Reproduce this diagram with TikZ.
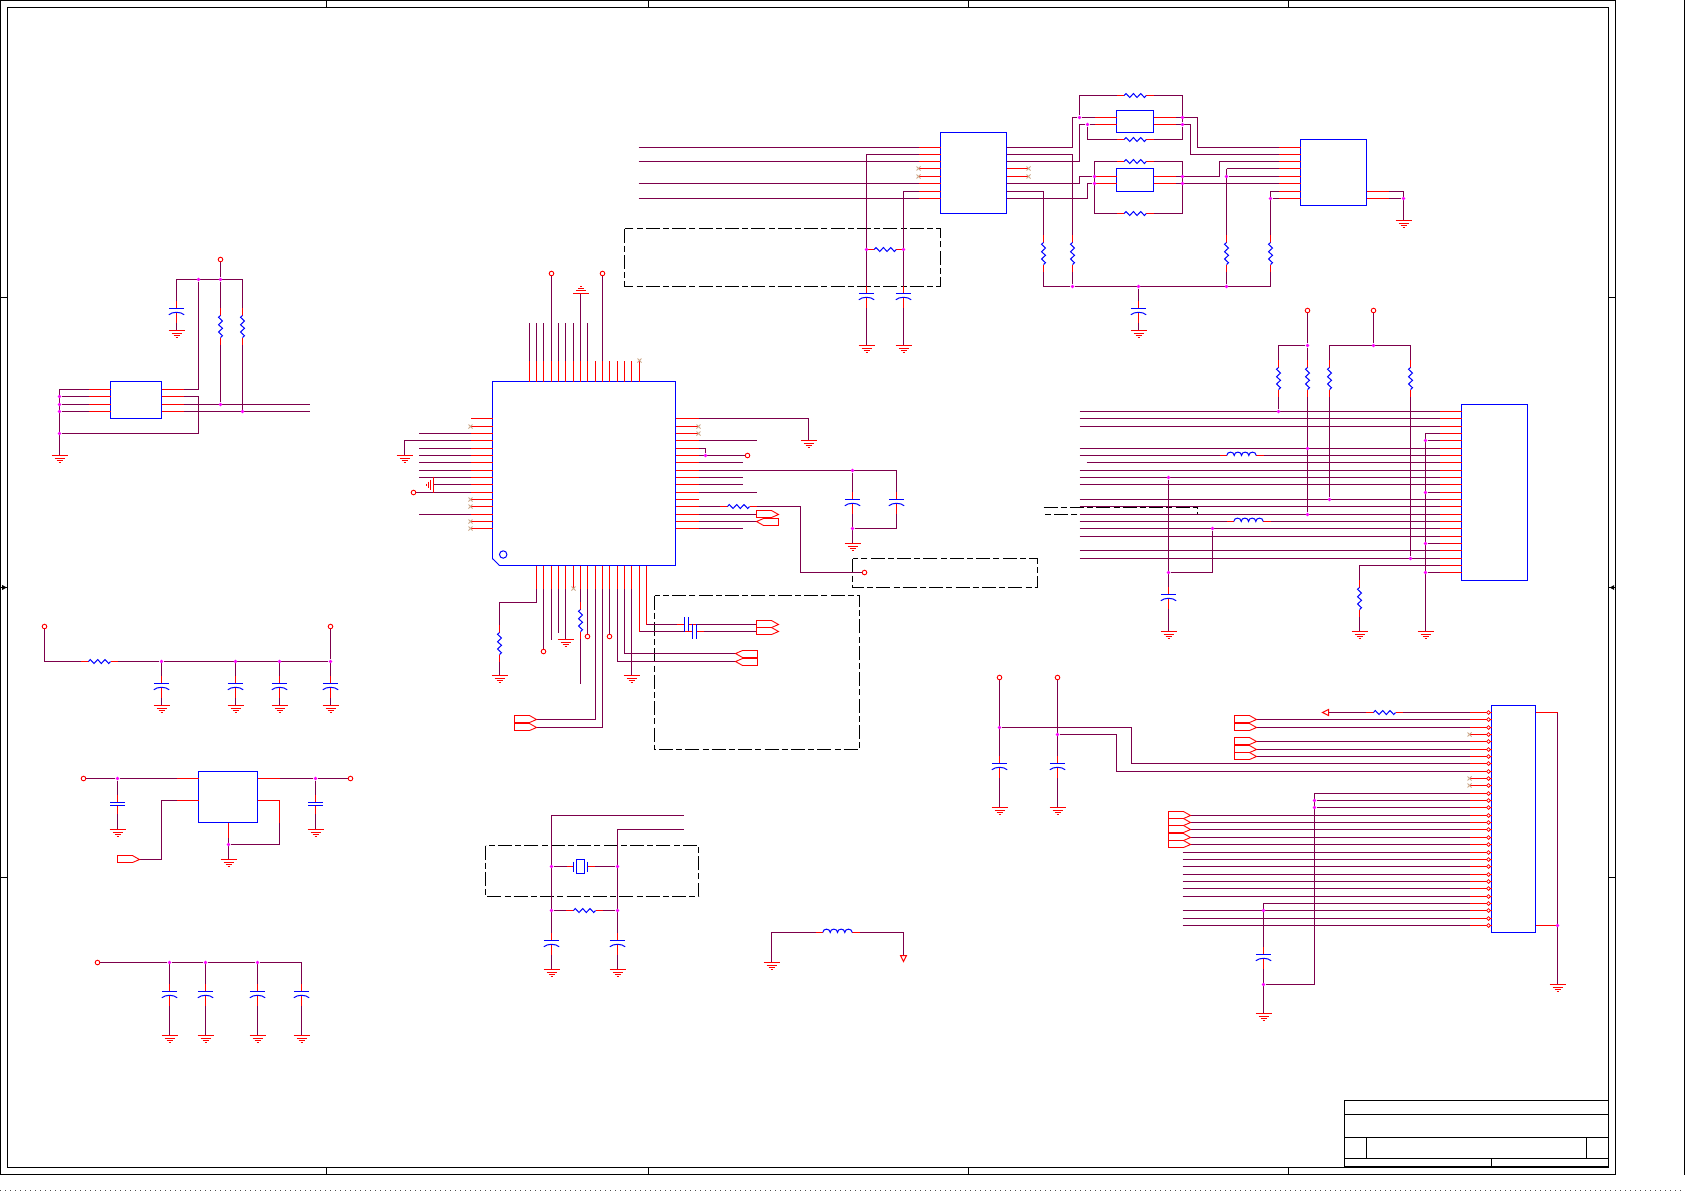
\documentclass[tikz,border=0pt]{standalone}
\usetikzlibrary{fit}
\pgfdeclarelayer{front}
\pgfsetlayers{main,front}
\definecolor{wirecol}{RGB}{125,0,75}
\definecolor{xcol}{RGB}{205,170,140}
\definecolor{dotcol}{RGB}{255,0,255}
\tikzset{
  wire/.style={draw=wirecol,line width=0.5pt},
  pin/.style={draw=red,line width=0.5pt},
  part/.style={draw=blue,line width=0.5pt},
  frame/.style={draw=black,line width=0.5pt},
  dashbox/.style={draw=black,line width=0.5pt,dash pattern=on 7pt off 1.6pt on 3pt off 1.6pt},
  ic/.style={draw=blue,line width=0.5pt,rectangle,inner sep=0pt,outer sep=0pt},
  jdot/.style={circle,fill=dotcol,inner sep=0pt,minimum size=1.9pt},
  term/.style={circle,draw=red,fill=white,line width=0.45pt,inner sep=0pt,minimum size=2.3pt},
  pad/.style={circle,draw=red,fill=white,line width=0.4pt,inner sep=0pt,minimum size=1.9pt},
  resv/.pic={
    \draw[white,line width=1pt] (0,-11) -- (0,11);
    \draw[pin] (0,-18.3) -- (0,-11) (0,11) -- (0,18.3);
    \draw[part] (0,-11) -- (-2,-9.2) -- (2,-5.5) -- (-2,-1.8) -- (2,1.8) -- (-2,5.5) -- (2,9.2) -- (0,11);
  },
  resh/.pic={
    \draw[white,line width=1pt] (-11,0) -- (11,0);
    \draw[pin] (-18.3,0) -- (-11,0) (11,0) -- (18.3,0);
    \draw[part] (-11,0) -- (-9.2,-2) -- (-5.5,2) -- (-1.8,-2) -- (1.8,2) -- (5.5,-2) -- (9.2,2) -- (11,0);
  },
  indh/.pic={
    \draw[white,line width=1pt] (-14.7,0) -- (14.7,0);
    \draw[pin] (-22,0) -- (-14.7,0) (14.7,0) -- (22,0);
    \draw[part] (-14.7,0) .. controls (-14.7,-4.5) and (-7.3,-4.5) .. (-7.3,0)
      .. controls (-7.3,-4.5) and (0,-4.5) .. (0,0)
      .. controls (0,-4.5) and (7.3,-4.5) .. (7.3,0)
      .. controls (7.3,-4.5) and (14.7,-4.5) .. (14.7,0);
  },
  capv/.pic={
    \draw[white,line width=1pt] (0,0.5) -- (0,3.2);
    \draw[pin] (0,-7.3) -- (0,0) (0,3.9) -- (0,14.6);
    \draw[part] (-7.7,0) -- (7.7,0);
    \draw[part] (-7.7,6.2) .. controls (-4,3) and (4,3) .. (7.7,6.2);
  },
  capflat/.pic={
    \draw[white,line width=1pt] (0,0.5) -- (0,2.5);
    \draw[pin] (0,-8) -- (0,0) (0,3) -- (0,11);
    \draw[part] (-7.3,0) -- (7.3,0) (-7.3,3) -- (7.3,3);
  },
  caph/.pic={
    \draw[white,line width=1pt] (-1.4,0) -- (1.4,0);
    \draw[pin] (-9.5,0) -- (-2,0) (2,0) -- (9.5,0);
    \draw[part] (-2,-7.3) -- (-2,7.3) (2,-7.3) -- (2,7.3);
  },
  xtal/.pic={
    \draw[white,line width=1pt] (-7,0) -- (7,0);
    \draw[pin] (-14,0) -- (-7,0) (7,0) -- (14,0);
    \draw[part] (-7,-5) -- (-7,5) (7,-5) -- (7,5) (-4,-7) rectangle (4,7);
  },
  gnd/.pic={
    \draw[pin] (-8,0) -- (8,0) (-5,3) -- (5,3) (-3,5) -- (3,5) (-1,7) -- (1,7);
  },
  port/.pic={
    \draw[pin,line width=0.45pt] (0,-4) -- (15,-4) -- (22,0) -- (15,3) -- (0,3) -- cycle;
  },
  tri/.pic={
    \draw[pin] (-3,0) -- (3,0) -- (0,6) -- cycle;
  },
  xmark/.pic={
    \draw[draw=xcol,line width=0.45pt] (-2,-2) -- (2,2) (-2,2) -- (2,-2);
  },
}
\begin{document}
\begin{tikzpicture}[x=0.5pt,y=-0.5pt]
  \useasboundingbox (-0.2,-0.2) rectangle (1684.8,1190.8);

  \draw[frame] (0.3,0.3) rectangle (1615.3,1174.3);
  \draw[frame] (7.3,7.3) rectangle (1608.3,1167.3);
  \draw[frame] (1684.3,0) -- (1684.3,1174.3);
  \draw[frame,black!70,dotted] (0,1190.3) -- (1685,1190.3);
  \foreach \x in {326.3,648.3,968.3,1288.3} {
    \draw[frame] (\x,0.3) -- (\x,7.3);
    \draw[frame] (\x,1167.3) -- (\x,1174.3);
  }
  \foreach \y in {297.3,587.3,877.3} {
    \draw[frame] (0.3,\y) -- (7.3,\y);
    \draw[frame] (1608.3,\y) -- (1615.3,\y);
  }
  \fill (2,584.8) -- (6.5,587.3) -- (2,589.8) -- cycle;
  \fill (1614,584.8) -- (1609.5,587.3) -- (1614,589.8) -- cycle;
  \draw[frame] (1344.3,1167.3) -- (1344.3,1100.3) -- (1608.3,1100.3);
  \draw[frame] (1344.3,1114.3) -- (1608.3,1114.3);
  \draw[frame] (1344.3,1137.3) -- (1608.3,1137.3);
  \draw[frame] (1344.3,1158.3) -- (1608.3,1158.3);
  \draw[frame] (1366.3,1137.3) -- (1366.3,1158.3);
  \draw[frame] (1586.3,1137.3) -- (1586.3,1158.3);
  \draw[frame] (1491.3,1158.3) -- (1491.3,1167.3);
  \draw[frame,line width=1pt] (1344.3,1166.8) -- (1608.3,1166.8);

  \begin{pgfonlayer}{front}
    \foreach \n/\x/\y in {
      a1/198.3/279.3,a2/220.3/279.3,a3/59.3/396.3,a4/59.3/404.3,a5/59.3/411.3,a6/59.3/433.3,a7/220.3/404.3,a8/242.3/411.3,
      m1/705.3/455.3,m2/852.3/470.3,m3/852.3/528.3,
      b1/866.3/249.3,b2/903.3/249.3,b3/1072.3/286.3,b4/1138.3/286.3,b5/1226.3/286.3,b6/1079.3/117.3,b7/1087.3/124.3,
      b8/1182.3/117.3,b9/1182.3/124.3,b10/1094.3/176.3,b11/1094.3/183.3,b12/1182.3/176.3,b13/1182.3/183.3,b14/1226.3/176.3,
      b15/1270.3/198.3,b16/1403.3/198.3,
      c1/1307.3/345.3,c2/1373.3/345.3,c3/1278.3/411.3,c4/1307.3/448.3,c5/1307.3/514.3,c6/1329.3/499.3,c7/1410.3/558.3,
      c8/1168.3/477.3,c9/1168.3/572.3,c10/1212.3/528.3,c11/1425.3/440.3,c12/1425.3/492.3,c13/1425.3/543.3,c14/1425.3/572.3,
      e1/999.3/727.3,e2/1057.3/734.3,e3/1314.3/800.3,e4/1314.3/807.3,e5/1263.3/910.3,e6/1263.3/984.3,e7/1557.3/925.3,
      k1/551.3/866.3,k2/617.3/866.3,k3/551.3/910.3,k4/617.3/910.3,
      f1/161.3/661.3,f2/235.3/661.3,f3/279.3/661.3,f4/330.3/661.3,g1/117.3/778.3,g2/315.3/778.3,g3/228.3/844.3,
      h1/169.3/962.3,h2/205.3/962.3,h3/257.3/962.3} {
      \node[jdot] (\n) at (\x,\y) {};
    }
    \foreach \n/\x/\y in {
      t1/220.3/259.3,t2/551.3/273.3,t3/602.3/273.3,t4/747.3/455.3,t5/413.3/492.3,t6/864.3/572.3,t7/543.3/651.3,t8/587.3/636.3,
      t9/609.3/636.3,t10/1307.3/310.3,t11/1373.3/310.3,t12/999.3/677.3,t13/1057.3/677.3,t14/44.3/626.3,t15/330.3/626.3,
      t16/83.3/778.3,t17/350.3/778.3,t18/97.3/962.3} {
      \node[term] (\n) at (\x,\y) {};
    }
  \end{pgfonlayer}

  \node[ic,fit={(110.3,381.3)(161.3,418.3)}] (u1) {};
  \node[ic,fit={(492.3,381.3)(675.3,565.3)}] (u2) {};
  \node[ic,fit={(940.3,132.3)(1006.3,213.3)}] (u3) {};
  \node[ic,fit={(1116.3,110.3)(1153.3,132.3)}] (u4) {};
  \node[ic,fit={(1116.3,168.3)(1153.3,191.3)}] (u5) {};
  \node[ic,fit={(1300.3,139.3)(1366.3,205.3)}] (u6) {};
  \node[ic,fit={(1461.3,404.3)(1527.3,580.3)}] (u7) {};
  \node[ic,fit={(1491.3,705.3)(1535.3,932.3)}] (u8) {};
  \node[ic,fit={(198.3,771.3)(257.3,822.3)}] (u9) {};
  \fill[white] (491.5,558.3) -- (491.5,566) -- (499.3,566) -- cycle;
  \draw[part] (492.3,558.3) -- (499.3,565.3);
  \node[ic,circle,minimum size=3.7pt] (u2m) at (503,554.3) {};

  \draw[dashbox] (624.3,228.3) rectangle (940.3,286.3);
  \draw[dashbox] (654.3,595.3) rectangle (859.3,749.3);
  \draw[dashbox] (852.3,558.3) rectangle (1037.3,587.3);
  \draw[dashbox] (485.3,845.3) rectangle (698.3,896.3);
  \draw[dashbox] (1043.3,507.3) -- (1197.3,507.3) -- (1197.3,514.3) -- (1043.3,514.3);

  % pull-ups, left
  \draw[wire] (t1) -- (a2);
  \draw[wire] (176.3,330.3) |- (242.3,279.3) -- (242.3,411.3);
  \draw[wire] (a2) -- (a7);
  \draw[wire] (a1) -- (198.3,389.3) -- (u1.east |- 0,389.3);
  \draw[wire] (u1.east |- 0,396.3) -- (198.3,396.3) |- (a6);
  \draw[wire] (59.3,455.3) -- (59.3,389.3) -- (u1.west |- 0,389.3);
  \draw[wire] (a3) -- (u1.west |- 0,396.3);
  \draw[wire] (a4) -- (u1.west |- 0,404.3);
  \draw[wire] (a5) -- (u1.west |- 0,411.3);
  \draw[wire] (u1.east |- 0,404.3) -- (309.3,404.3);
  \draw[wire] (u1.east |- 0,411.3) -- (309.3,411.3);
  \foreach \y in {389.3,396.3,404.3,411.3} {
    \draw[pin] (u1.west |- 0,\y) -- (88.3,\y);
    \draw[pin] (u1.east |- 0,\y) -- (183.3,\y);
  }
  \pic at (176.3,308.3) {capv};
  \pic at (220.3,326.3) {resv};
  \pic at (242.3,326.3) {resv};
  \pic at (176.3,330.3) {gnd};
  \pic at (59.3,455.3) {gnd};

  % main chip, top
  \foreach \x in {529.3,536.3,543.3,558.3,565.3,573.3,587.3}
    \draw[wire] (\x,0 |- u2.north) -- (\x,322.3);
  \draw[wire] (t2) -- (551.3,0 |- u2.north);
  \draw[wire] (t3) -- (602.3,0 |- u2.north);
  \draw[wire] (580.3,293.3) -- (580.3,0 |- u2.north);
  \foreach \x in {529.3,536.3,543.3,551.3,558.3,565.3,573.3,580.3,587.3,595.3,602.3,609.3,617.3,624.3,631.3,639.3}
    \draw[pin] (\x,0 |- u2.north) -- (\x,360.3);
  \pic[rotate=180] at (580.3,293.3) {gnd};
  \pic at (639.3,360.3) {xmark};

  % main chip, left
  \foreach \y in {433.3,448.3,455.3,462.3,470.3,477.3,514.3}
    \draw[wire] (u2.west |- 0,\y) -- (418.3,\y);
  \draw[wire] (u2.west |- 0,440.3) -- (404.3,440.3) -- (404.3,455.3);
  \draw[wire] (u2.west |- 0,484.3) -- (433.3,484.3);
  \draw[wire] (u2.west |- 0,492.3) -- (t5);
  \foreach \y in {418.3,426.3,433.3,440.3,448.3,455.3,462.3,470.3,477.3,484.3,492.3,499.3,506.3,514.3,521.3,528.3}
    \draw[pin] (u2.west |- 0,\y) -- (470.3,\y);
  \foreach \y in {426.3,499.3,506.3,521.3,528.3}
    \pic at (470.3,\y) {xmark};
  \pic at (404.3,455.3) {gnd};
  \pic[rotate=-90] at (433.3,484.3) {gnd};

  % main chip, right
  \draw[wire] (u2.east |- 0,418.3) -| (808.3,440.3);
  \draw[wire] (u2.east |- 0,440.3) -- (756.3,440.3);
  \draw[wire] (u2.east |- 0,448.3) -| (m1);
  \draw[wire] (u2.east |- 0,455.3) -- (t4);
  \draw[wire] (u2.east |- 0,462.3) -- (742.3,462.3);
  \draw[wire] (u2.east |- 0,470.3) -- (896.3,470.3) -- (896.3,528.3) -- (m3);
  \draw[wire] (m2) -- (852.3,543.3);
  \draw[wire] (u2.east |- 0,477.3) -- (742.3,477.3);
  \draw[wire] (u2.east |- 0,484.3) -- (742.3,484.3);
  \draw[wire] (u2.east |- 0,492.3) -- (756.3,492.3);
  \draw[wire] (u2.east |- 0,506.3) -- (800.3,506.3) -- (800.3,572.3) -- (t6);
  \draw[wire] (u2.east |- 0,514.3) -- (756.3,514.3);
  \draw[wire] (u2.east |- 0,521.3) -- (756.3,521.3);
  \draw[wire] (u2.east |- 0,528.3) -- (742.3,528.3);
  \foreach \y in {418.3,426.3,433.3,440.3,448.3,455.3,462.3,470.3,477.3,484.3,492.3,499.3,506.3,514.3,521.3,528.3}
    \draw[pin] (u2.east |- 0,\y) -- (698.3,\y);
  \foreach \y in {426.3,433.3}
    \pic at (698.3,\y) {xmark};
  \pic at (808.3,440.3) {gnd};
  \pic at (738.3,506.3) {resh};
  \pic at (756.3,514.3) {port};
  \pic[rotate=180] at (778.3,521.3) {port};
  \pic at (852.3,499.3) {capv};
  \pic at (896.3,499.3) {capv};
  \pic at (852.3,543.3) {gnd};

  % main chip, bottom
  \draw[wire] (536.3,0 |- u2.south) |- (499.3,602.3) -- (499.3,675.3);
  \draw[wire] (543.3,0 |- u2.south) -- (t7);
  \draw[wire] (551.3,0 |- u2.south) -- (551.3,639.3);
  \draw[wire] (558.3,0 |- u2.south) -- (558.3,632.3);
  \draw[wire] (565.3,0 |- u2.south) -- (565.3,639.3);
  \draw[wire] (580.3,0 |- u2.south) -- (580.3,683.3);
  \draw[wire] (587.3,0 |- u2.south) -- (t8);
  \draw[wire] (595.3,0 |- u2.south) |- (536.3,719.3);
  \draw[wire] (602.3,0 |- u2.south) |- (536.3,727.3);
  \draw[wire] (609.3,0 |- u2.south) -- (t9);
  \draw[wire] (617.3,0 |- u2.south) |- (735.3,661.3);
  \draw[wire] (624.3,0 |- u2.south) |- (735.3,653.3);
  \draw[wire] (631.3,0 |- u2.south) -- (631.3,675.3);
  \draw[wire] (639.3,0 |- u2.south) |- (756.3,631.3);
  \draw[wire] (646.3,0 |- u2.south) |- (756.3,624.3);
  \foreach \x in {536.3,543.3,551.3,558.3,565.3,573.3,580.3,587.3,595.3,602.3,609.3,617.3,624.3,631.3}
    \draw[pin] (\x,0 |- u2.south) -- (\x,588.3);
  \draw[pin] (639.3,0 |- u2.south) -- (639.3,631.3);
  \draw[pin] (646.3,0 |- u2.south) -- (646.3,624.3);
  \pic at (573.3,588.3) {xmark};
  \pic at (499.3,643.3) {resv};
  \pic at (499.3,675.3) {gnd};
  \pic at (565.3,639.3) {gnd};
  \pic at (631.3,675.3) {gnd};
  \pic at (580.3,620.3) {resv};
  \pic at (686.3,624.3) {caph};
  \pic at (694.3,631.3) {caph};
  \pic at (756.3,624.3) {port};
  \pic at (756.3,631.3) {port};
  \pic[rotate=180] at (757.3,653.3) {port};
  \pic[rotate=180] at (757.3,661.3) {port};
  \pic at (514.3,719.3) {port};
  \pic at (514.3,727.3) {port};

  % top chain
  \foreach \y in {147.3,161.3,183.3,198.3}
    \draw[wire] (638.3,\y) -- (u3.west |- 0,\y);
  \draw[wire] (u3.west |- 0,154.3) -| (866.3,345.3);
  \draw[wire] (u3.west |- 0,191.3) -| (903.3,345.3);
  \foreach \y in {147.3,154.3,161.3,168.3,176.3,183.3,191.3,198.3} {
    \draw[pin] (u3.west |- 0,\y) -- (918.3,\y);
    \draw[pin] (u3.east |- 0,\y) -- (1028.3,\y);
  }
  \foreach \y in {168.3,176.3} {
    \pic at (918.3,\y) {xmark};
    \pic at (1028.3,\y) {xmark};
  }
  \pic at (885,249.3) {resh};
  \foreach \x in {866.3,903.3} {
    \pic at (\x,293.3) {capv};
    \pic at (\x,345.3) {gnd};
  }
  \draw[wire] (u3.east |- 0,147.3) -- (1072.3,147.3) |- (b6);
  \draw[wire] (u3.east |- 0,154.3) -- (1072.3,154.3) -- (b3);
  \draw[wire] (u3.east |- 0,161.3) -- (1079.3,161.3) |- (b7);
  \draw[wire] (u3.east |- 0,183.3) -- (1079.3,183.3) |- (b10);
  \draw[wire] (u3.east |- 0,191.3) -- (1043.3,191.3) -- (1043.3,286.3) -- (b3);
  \draw[wire] (u3.east |- 0,198.3) -- (1087.3,198.3) |- (b11);
  \draw[wire] (b6) -- (u4.west |- 0,117.3);
  \draw[wire] (b7) -- (u4.west |- 0,124.3);
  \draw[wire] (b10) -- (u5.west |- 0,176.3);
  \draw[wire] (b11) -- (u5.west |- 0,183.3);
  \draw[wire] (b6) |- (1182.3,95.3) -- (b9);
  \draw[wire] (b7) |- (1182.3,139.3) -- (b9);
  \draw[wire] (1094.3,213.3) -- (1094.3,161.3) -- (1182.3,161.3) -- (1182.3,213.3) -- cycle;
  \draw[wire] (u4.east |- 0,117.3) -- (1197.3,117.3) |- (u6.west |- 0,147.3);
  \draw[wire] (u4.east |- 0,124.3) -- (1190.3,124.3) |- (u6.west |- 0,154.3);
  \draw[wire] (u5.east |- 0,176.3) -- (1219.3,176.3) |- (u6.west |- 0,161.3);
  \draw[wire] (u5.east |- 0,183.3) -- (u6.west |- 0,183.3);
  \draw[wire] (1226.3,168.3) -- (u6.west |- 0,168.3);
  \draw[wire] (b14) -- (u6.west |- 0,176.3);
  \draw[wire] (1226.3,168.3) -- (b5);
  \draw[wire] (b3) -- (1270.3,286.3) -- (1270.3,191.3) -- (u6.west |- 0,191.3);
  \draw[wire] (b15) -- (u6.west |- 0,198.3);
  \draw[wire] (u6.east |- 0,191.3) -| (1403.3,220.3);
  \draw[wire] (u6.east |- 0,198.3) -- (b16);
  \draw[wire] (b4) -- (1138.3,330.3);
  \foreach \y in {117.3,124.3} {
    \draw[pin] (u4.west |- 0,\y) -- (1094.3,\y);
    \draw[pin] (u4.east |- 0,\y) -- (1175.3,\y);
  }
  \foreach \y in {176.3,183.3} {
    \draw[pin] (u5.west |- 0,\y) -- (1094.3,\y);
    \draw[pin] (u5.east |- 0,\y) -- (1175.3,\y);
  }
  \foreach \y in {147.3,154.3,161.3,168.3,176.3,183.3,191.3,198.3}
    \draw[pin] (u6.west |- 0,\y) -- (1278.3,\y);
  \foreach \y in {191.3,198.3}
    \draw[pin] (u6.east |- 0,\y) -- (1388.3,\y);
  \foreach \y in {95.3,139.3,161.3,213.3}
    \pic at (1135,\y) {resh};
  \foreach \x in {1043.3,1072.3,1226.3,1270.3}
    \pic at (\x,253.3) {resv};
  \pic at (1138.3,308.3) {capv};
  \pic at (1138.3,330.3) {gnd};
  \pic at (1403.3,220.3) {gnd};

  % first connector
  \draw[wire] (t10) -- (c1);
  \draw[wire] (t11) -- (c2);
  \draw[wire] (c3) |- (c1) -- (c5);
  \draw[wire] (c6) |- (1410.3,345.3) -- (c7);
  \foreach \y in {411.3,418.3,426.3,448.3,455.3,470.3,477.3,484.3,499.3,506.3,514.3,521.3,528.3,536.3,550.3,558.3}
    \draw[wire] (1079.3,\y) -- (u7.west |- 0,\y);
  \draw[wire] (1086.3,462.3) -- (u7.west |- 0,462.3);
  \draw[wire] (c14) -- (u7.west |- 0,572.3);
  \draw[wire] (c11) -- (u7.west |- 0,440.3);
  \draw[wire] (c12) -- (u7.west |- 0,492.3);
  \draw[wire] (c13) -- (u7.west |- 0,543.3);
  \draw[wire] (u7.west |- 0,433.3) -| (1425.3,631.3);
  \draw[wire] (u7.west |- 0,565.3) -| (1359.3,631.3);
  \draw[wire] (c8) -- (1168.3,631.3);
  \draw[wire] (c9) -| (c10);
  \foreach \y in {411.3,418.3,426.3,433.3,440.3,448.3,455.3,462.3,470.3,477.3,484.3,492.3,499.3,506.3,514.3,521.3,528.3,536.3,543.3,550.3,558.3,565.3,572.3}
    \draw[pin] (u7.west |- 0,\y) -- (1439.3,\y);
  \foreach \x in {1278.3,1307.3,1329.3,1410.3}
    \pic at (\x,378.3) {resv};
  \pic at (1241.3,455.3) {indh};
  \pic at (1248.3,521.3) {indh};
  \pic at (1168.3,594.3) {capv};
  \pic at (1359.3,598.3) {resv};
  \foreach \x in {1168.3,1359.3,1425.3}
    \pic at (\x,631.3) {gnd};

  % second connector
  \draw[wire] (t12) -- (999.3,807.3);
  \draw[wire] (t13) -- (1057.3,807.3);
  \draw[wire] (e1) -- (1131.3,727.3) -- (1131.3,763.3) -- (u8.west |- 0,763.3);
  \draw[wire] (e2) -- (1116.3,734.3) -- (1116.3,771.3) -- (u8.west |- 0,771.3);
  \draw[wire] (1328.3,712.3) -- (u8.west |- 0,712.3);
  \foreach \y in {719.3,727.3,741.3,749.3,756.3}
    \draw[wire] (1256.3,\y) -- (u8.west |- 0,\y);
  \foreach \y in {815.3,822.3,829.3,837.3,844.3}
    \draw[wire] (1190.3,\y) -- (u8.west |- 0,\y);
  \foreach \y in {852.3,859.3,866.3,874.3,881.3,888.3,896.3,910.3,918.3,925.3}
    \draw[wire] (1182.3,\y) -- (u8.west |- 0,\y);
  \draw[wire] (e6) -- (1314.3,984.3) -- (1314.3,793.3) -- (u8.west |- 0,793.3);
  \draw[wire] (e3) -- (u8.west |- 0,800.3);
  \draw[wire] (e4) -- (u8.west |- 0,807.3);
  \draw[wire] (1263.3,1013.3) -- (1263.3,903.3) -- (u8.west |- 0,903.3);
  \draw[wire] (u8.east |- 0,712.3) -| (1557.3,984.3);
  \draw[wire] (u8.east |- 0,925.3) -- (e7);
  \foreach \y [count=\i] in {712.3,719.3,727.3,734.3,741.3,749.3,756.3,763.3,771.3,778.3,785.3,793.3,800.3,807.3,815.3,822.3,829.3,837.3,844.3,852.3,859.3,866.3,874.3,881.3,888.3,896.3,903.3,910.3,918.3,925.3} {
    \draw[pin] (u8.west |- 0,\y) -- (1469.3,\y);
    \node[pad] (p\i) at (1488.3,\y) {};
  }
  \draw[pin] (u8.east |- 0,712.3) -- (1557.3,712.3);
  \draw[pin] (u8.east |- 0,925.3) -- (1557.3,925.3);
  \foreach \y in {734.3,778.3,785.3}
    \pic at (1469.3,\y) {xmark};
  \pic at (1384.3,712.3) {resh};
  \pic[rotate=-90] at (1328.3,712.3) {tri};
  \foreach \y in {719.3,727.3,741.3,749.3,756.3}
    \pic at (1234.3,\y) {port};
  \foreach \y in {815.3,822.3,829.3,837.3,844.3}
    \pic at (1168.3,\y) {port};
  \foreach \x in {999.3,1057.3} {
    \pic at (\x,763.3) {capv};
    \pic at (\x,807.3) {gnd};
  }
  \pic at (1263.3,954.3) {capv};
  \pic at (1263.3,1013.3) {gnd};
  \pic at (1557.3,984.3) {gnd};

  % crystal
  \draw[wire] (683.3,815.3) -| (551.3,969.3);
  \draw[wire] (683.3,829.3) -| (617.3,969.3);
  \draw[wire] (k1) -- (k2);
  \draw[wire] (k3) -- (k4);
  \pic at (580.3,866.3) {xtal};
  \pic at (584.3,910.3) {resh};
  \foreach \x in {551.3,617.3} {
    \pic at (\x,940.3) {capv};
    \pic at (\x,969.3) {gnd};
  }

  % ground link
  \draw[wire] (771.3,962.3) |- (903.3,932.3) -- (903.3,955.3);
  \pic at (837.3,932.3) {indh};
  \pic at (771.3,962.3) {gnd};
  \pic at (903.3,955.3) {tri};

  % lower left supplies
  \draw[wire] (t14) |- (f1);
  \draw[wire] (f1) -- (f4);
  \draw[wire] (t15) -- (f4);
  \foreach \x in {161.3,235.3,279.3,330.3} {
    \draw[wire] (\x,661.3) -- (\x,705.3);
    \pic at (\x,683.3) {capv};
    \pic at (\x,705.3) {gnd};
  }
  \pic at (99.3,661.3) {resh};

  \draw[wire] (t16) -- (g1);
  \draw[wire] (g1) -- (u9.west |- 0,778.3);
  \draw[wire] (u9.east |- 0,778.3) -- (g2);
  \draw[wire] (g2) -- (t17);
  \draw[wire] (u9.west |- 0,800.3) -- (161.3,800.3) |- (139.3,859.3);
  \draw[wire] (u9.east |- 0,800.3) -- (279.3,800.3) |- (g3);
  \draw[wire] (228.3,0 |- u9.south) -- (228.3,859.3);
  \draw[wire] (g1) -- (117.3,829.3);
  \draw[wire] (g2) -- (315.3,829.3);
  \foreach \y in {778.3,800.3} {
    \draw[pin] (u9.west |- 0,\y) -- (176.3,\y);
    \draw[pin] (u9.east |- 0,\y) -- (279.3,\y);
  }
  \draw[pin] (228.3,0 |- u9.south) -- (228.3,837.3);
  \draw[pin] (279.3,800.3) -- (279.3,822.3);
  \pic at (117.3,802.3) {capflat};
  \pic at (315.3,802.3) {capflat};
  \pic at (117.3,829.3) {gnd};
  \pic at (315.3,829.3) {gnd};
  \pic at (228.3,859.3) {gnd};
  \pic at (117.3,859.3) {port};

  \draw[wire] (t18) -- (h1);
  \draw[wire] (h1) -- (h2);
  \draw[wire] (h2) -- (h3);
  \draw[wire] (h3) -- (301.3,962.3) -- (301.3,1035.3);
  \foreach \x in {169.3,205.3,257.3}
    \draw[wire] (\x,962.3) -- (\x,1035.3);
  \foreach \x in {169.3,205.3,257.3,301.3} {
    \pic at (\x,991.3) {capv};
    \pic at (\x,1035.3) {gnd};
  }
\end{tikzpicture}
\end{document}
